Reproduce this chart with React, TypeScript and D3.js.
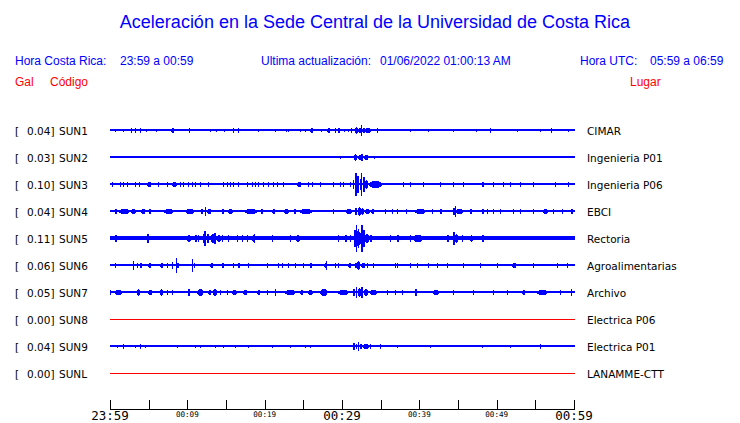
import React from "react";
import * as d3 from "d3";

const W = 740;
const H = 423;

const title = "Aceleración en la Sede Central de la Universidad de Costa Rica";
const crLabel = "Hora Costa Rica:";
const crRange = "23:59 a 00:59";
const updLabel = "Ultima actualización:";
const updValue = "01/06/2022 01:00:13 AM";
const utcLabel = "Hora UTC:";
const utcRange = "05:59 a 06:59";

const stations = ["SUN1", "SUN2", "SUN3", "SUN4", "SUN5", "SUN6", "SUN7", "SUN8", "SUN9", "SUNL"];
const peaks = [0.04, 0.03, 0.1, 0.04, 0.11, 0.06, 0.05, 0.0, 0.04, 0.0];
const places = [
  "CIMAR",
  "Ingenieria P01",
  "Ingenieria P06",
  "EBCI",
  "Rectoria",
  "Agroalimentarias",
  "Archivo",
  "Electrica P06",
  "Electrica P01",
  "LANAMME-CTT",
];
// baseline noise half-amplitude per station
const noise = [0.9, 0.9, 0.9, 0.9, 2, 0.9, 0.9, 0.5, 0.9, 0.5];

// minutes after 23:59 for ticks
const tickMinutes = [0, 5, 10, 15, 20, 25, 30, 35, 40, 45, 50, 55, 60];
const bigLabels: [number, string][] = [
  [0, "23:59"],
  [30, "00:29"],
  [60, "00:59"],
];
const smallLabels: [number, string][] = [
  [10, "00:09"],
  [20, "00:19"],
  [40, "00:39"],
  [50, "00:49"],
];

// events: [minute, half amplitude, duration in minutes]
type Ev = [number, number, number];
const sun1: Ev[] = [
  [0.6, 1, 0.1], [1.7, 1, 0.1], [2.7, 1.5, 0.2], [3.2, 1.2, 0.1], [3.9, 1.2, 0.1], [4.6, 1, 0.1],
  [5.9, 1, 0.1], [7.9, 1.5, 0.4], [10.2, 1.2, 0.1], [12.9, 1, 0.1], [13.7, 1, 0.1], [14.7, 1, 0.1],
  [15.9, 1.2, 0.1], [16.5, 1.2, 0.1], [19.1, 0.8, 0.1], [21.3, 1, 0.1], [22.8, 1, 0.1], [23.0, 1, 0.1],
  [24.6, 1, 0.1], [25.2, 1, 0.1], [25.9, 1.5, 0.4], [27.3, 1, 0.1], [28.1, 1.5, 0.4], [29.1, 1.2, 0.1],
  [29.5, 1.2, 0.2], [30.2, 1, 0.1], [30.8, 1, 0.1], [31.1, 1.2, 0.1],
  [31.7, 2.5, 0.4], [32.1, 1.8, 0.3], [32.4, 4.5, 0.15], [32.6, 2, 0.4], [33.0, 1.3, 0.8], [34.5, 1.2, 0.2],
  [38.8, 1, 0.1], [41.1, 1, 0.1], [44.4, 1, 0.1], [47.3, 1, 0.1], [49.2, 1.2, 0.1], [52.6, 1, 0.1],
  [55.6, 1, 0.1], [57.0, 1.5, 0.1], [59.2, 1, 0.1],
];
const sun2: Ev[] = [
  [29.7, 1, 0.1], [31.6, 2.5, 0.4], [32.1, 1.5, 0.3], [32.4, 2.5, 0.3], [32.8, 1.3, 0.6], [34.1, 1, 0.1],
];
const sun3: Ev[] = [
  [0.3, 1.5, 0.1], [1.3, 1.5, 0.1], [1.7, 1.5, 0.1], [2.2, 1.5, 0.1], [3.2, 1.5, 0.1], [3.8, 1.5, 0.1],
  [4.8, 1.5, 0.5], [6.2, 1.5, 0.1], [7.4, 1.5, 0.1], [8.0, 1.5, 0.6], [9.1, 1.5, 0.1], [9.4, 1.5, 0.1],
  [10.1, 1.5, 0.1], [10.6, 1.5, 0.1], [11.0, 1.5, 0.1], [11.6, 1.5, 0.1], [12.7, 1.5, 0.1], [14.6, 1.5, 0.1],
  [15.1, 1.5, 0.1], [15.5, 1.5, 0.1], [15.9, 1.5, 0.1], [16.6, 1.5, 0.1], [17.7, 1.5, 0.1], [18.4, 1.5, 0.1],
  [18.7, 1.5, 0.1], [19.1, 1.5, 0.1], [19.8, 1.5, 0.1], [20.4, 1.5, 0.1], [21.1, 1.5, 0.1], [21.6, 1.5, 0.1],
  [22.4, 1.5, 0.1], [24.2, 1.5, 0.5], [25.6, 1.5, 0.1], [26.1, 1.5, 0.1], [27.2, 1.5, 0.1], [28.8, 1.5, 0.1],
  [29.7, 1.5, 0.1], [30.1, 1.5, 0.1], [31.0, 2, 0.1],
  [31.4, 4, 0.2], [31.7, 11, 0.2], [31.9, 8, 0.3], [32.3, 5, 0.2], [32.5, 11, 0.15], [32.7, 7, 0.3],
  [33.0, 4, 0.4], [33.5, 2.2, 1.7],
  [37.9, 1.5, 0.1], [38.8, 1.5, 0.1], [40.5, 1.5, 0.1], [42.7, 1.5, 0.1], [44.4, 1.5, 0.1], [45.6, 1.5, 0.1],
  [48.1, 1.8, 0.2], [49.5, 1.5, 0.1], [50.8, 1.5, 0.1], [51.7, 1.5, 0.1], [53.0, 1.5, 0.1], [54.7, 1.5, 0.1],
  [57.5, 1.5, 0.1], [59.2, 1.5, 0.1],
];
const sun4: Ev[] = [
  [0.6, 1.5, 0.3], [1.2, 2, 1.2], [2.7, 1.5, 0.6], [4.0, 1.5, 0.5], [5.0, 1.5, 0.3], [7.0, 1.5, 1.2],
  [9.8, 1.5, 1.0], [11.8, 1.2, 0.2], [12.3, 3.5, 0.15], [12.6, 1.5, 0.4], [14.5, 1.2, 0.2], [15.3, 1.5, 0.6],
  [17.5, 1.5, 1.5], [19.5, 1.3, 0.3], [21.0, 1.3, 0.4], [22.5, 1.5, 0.6], [23.8, 1.3, 0.3], [24.6, 1.5, 1.5],
  [28.8, 1.3, 0.1], [30.5, 1.5, 0.8], [31.7, 3, 0.3], [32.1, 4, 0.3], [32.5, 2.5, 0.4], [33.0, 2, 0.6],
  [33.7, 1.5, 0.5], [35.6, 1.3, 0.1], [36.5, 1.3, 0.1], [37.1, 1.3, 0.1], [38.3, 1.3, 0.1], [39.4, 1.8, 1.3],
  [41.6, 1.3, 0.1], [42.7, 1.5, 0.2], [44.4, 2.5, 0.2], [44.6, 5, 0.15], [44.8, 2, 0.3], [45.0, 1.5, 0.7],
  [46.6, 1.3, 0.2], [48.1, 1.5, 0.3], [48.7, 1.3, 0.1], [49.5, 1.3, 0.2], [50.4, 1.3, 0.1], [52.1, 1.3, 0.1],
  [53.0, 1.3, 0.1], [54.7, 1.3, 0.1], [56.0, 1.3, 0.6], [57.3, 1.3, 0.1], [58.4, 1.3, 0.1], [59.6, 1.5, 0.3],
];
const sun5: Ev[] = [
  [0.6, 2.5, 0.3], [4.8, 4, 0.3], [9.9, 2.5, 0.6], [11.0, 2.5, 0.2], [11.4, 2.5, 0.1], [12.0, 4, 0.2],
  [12.2, 7, 0.15], [12.5, 4, 0.3], [13.0, 3.5, 0.6], [13.5, 5, 0.2], [13.8, 3, 0.5], [14.5, 2.5, 0.1],
  [15.3, 2.5, 0.1], [16.4, 2.5, 0.2], [17.1, 2.5, 0.1], [17.7, 2.5, 0.1], [18.4, 3, 0.3], [18.6, 4, 0.15],
  [20.9, 2.5, 0.2], [23.3, 2.5, 0.1], [23.9, 2.8, 0.7], [29.5, 2.5, 0.1], [30.4, 2.5, 0.2], [31.0, 2.5, 0.2],
  [31.6, 8, 0.2], [31.8, 12.5, 0.2], [32.0, 9, 0.3], [32.3, 5, 0.2], [32.5, 12.5, 0.2], [32.7, 8, 0.3],
  [33.0, 4, 0.5], [33.6, 2.8, 0.3], [36.2, 2.5, 0.2], [37.1, 2.5, 0.3], [38.8, 2.5, 0.1], [39.2, 3, 1.3],
  [43.6, 3, 0.3], [44.4, 6, 0.2], [44.6, 4, 0.4], [45.5, 2.5, 0.2], [46.6, 2.5, 0.4], [48.1, 3, 0.3],
];
const sun6: Ev[] = [
  [0.6, 2, 0.2], [3.0, 4, 0.1], [3.5, 1.5, 0.1], [3.9, 1.5, 0.2], [4.9, 2, 0.4], [6.5, 1.5, 0.4],
  [7.4, 1.2, 0.1], [8.0, 3, 0.1], [8.5, 7, 0.1], [8.6, 2, 0.3], [10.6, 6, 0.1], [10.8, 2, 0.2],
  [12.9, 1.5, 0.4], [14.5, 1.5, 0.2], [15.9, 1.3, 0.1], [16.6, 1.5, 0.2], [17.8, 1.5, 0.2], [20.3, 1.3, 0.1],
  [21.7, 1.3, 0.1], [22.2, 1.3, 0.1], [23.0, 1.3, 0.1], [23.9, 1.3, 0.1], [25.0, 1.3, 0.1], [25.9, 1.5, 0.2],
  [27.7, 2, 0.3], [27.9, 4, 0.1], [29.1, 1.2, 0.1], [29.5, 1.2, 0.1], [30.8, 1.5, 0.3], [31.7, 2, 0.2],
  [32.0, 3.5, 0.3], [32.4, 2, 0.6], [33.2, 1.5, 0.2], [34.0, 1.3, 0.1], [36.9, 1.3, 0.1], [37.1, 1.3, 0.1],
  [38.8, 1.3, 0.1], [39.7, 1.3, 0.1], [41.1, 1.3, 0.1], [42.3, 1.3, 0.1], [43.6, 1.3, 0.1], [45.6, 1.3, 0.1],
  [47.8, 1.3, 0.1], [50.0, 1.3, 0.1], [52.0, 1.5, 0.5], [54.7, 1.3, 0.1], [57.8, 1.3, 0.1], [59.1, 1.5, 0.1],
];
const sun7: Ev[] = [
  [0.0, 1.5, 0.1], [0.6, 2, 1.0], [3.5, 2.5, 0.4], [4.9, 2, 0.5], [6.5, 2.5, 0.3], [7.4, 1.5, 0.1],
  [8.0, 1.5, 0.1], [10.1, 2.5, 0.2], [11.2, 2.5, 0.8], [12.7, 2, 0.4], [13.3, 3, 0.5], [14.2, 1.5, 0.1],
  [15.1, 1.5, 0.1], [15.8, 2, 0.6], [17.2, 2, 0.5], [19.0, 2, 0.4], [20.3, 1.5, 0.1], [21.3, 3, 0.2],
  [22.6, 2, 1.3], [24.6, 2, 0.3], [25.6, 2, 0.6], [27.2, 2.5, 0.9], [29.5, 2, 1.3], [30.4, 1.3, 0.1],
  [31.4, 3, 0.3], [31.8, 5, 0.2], [32.1, 3.5, 0.4], [32.5, 5, 0.2], [32.8, 2.5, 0.5], [33.6, 2, 0.9],
  [35.8, 1.3, 0.1], [36.9, 1.3, 0.1], [37.8, 1.3, 0.1], [39.4, 3, 0.3], [41.8, 2, 0.8], [44.4, 1.5, 0.1],
  [46.9, 1.5, 0.1], [49.5, 1.5, 0.1], [51.3, 1.3, 0.1], [53.3, 1.5, 0.3], [55.2, 2, 1.3], [58.2, 1.3, 0.1],
  [59.6, 3, 0.2],
];
const sun8: Ev[] = [];
const sun9: Ev[] = [
  [0.9, 1, 0.1], [1.7, 1.3, 0.1], [3.2, 1, 0.1], [3.9, 1.2, 0.1], [4.5, 1, 0.1], [8.7, 1, 0.1],
  [11.0, 1, 0.1], [11.6, 1, 0.1], [13.6, 1, 0.1], [14.6, 1, 0.1], [16.2, 1, 0.1], [17.8, 1, 0.1],
  [20.9, 1, 0.1], [23.3, 1, 0.1], [25.2, 1, 0.1], [25.9, 1, 0.1], [31.4, 2.5, 0.3], [31.8, 2, 0.2],
  [32.1, 4, 0.15], [32.3, 2, 0.3], [32.7, 1.3, 0.8], [33.6, 1.5, 0.2], [34.9, 1.3, 0.1], [37.1, 1, 0.1],
  [41.4, 1, 0.1], [48.1, 1, 0.1], [51.7, 1, 0.1], [55.6, 1.3, 0.1],
];
const sunL: Ev[] = [];
const events: Ev[][] = [sun1, sun2, sun3, sun4, sun5, sun6, sun7, sun8, sun9, sunL];

const BLUE = "#0000ff";
const RED = "#ff0000";

export default function App() {
  const x = d3.scaleLinear().domain([0, 60]).range([110, 574]);
  const row = d3.scaleBand<string>().domain(stations).range([116.5, 386.5]).padding(0);
  const amp = d3.scaleLinear().domain([0, 13.5]).range([0, 13.5]);
  const bw = row.bandwidth();
  const sans = "'Liberation Sans', Arial, sans-serif";
  const dj = "'DejaVu Sans', sans-serif";
  const mono = "'DejaVu Sans Mono', monospace";

  const shape = (x0: number, x1: number, cy: number, a: number) => {
    const w = x1 - x0;
    if (w < 3) return `M${x0},${cy - a}H${x1}V${cy + a + 1}H${x0}Z`;
    const t = Math.max(1, Math.round(w * 0.3));
    const lo = Math.max(1, Math.round(a * 0.45));
    return (
      `M${x0},${cy - lo}L${x0 + t},${cy - a}H${x1 - t}L${x1},${cy - lo}` +
      `V${cy + lo + 1}L${x1 - t},${cy + a + 1}H${x0 + t}L${x0},${cy + lo + 1}Z`
    );
  };

  return (
    <svg width={W} height={H} style={{ position: "absolute", left: 0, top: 0, background: "#fff" }}>
      <rect x={0} y={0} width={W} height={H} fill="#fff" />
      <text x={375} y={28} textAnchor="middle" fontFamily={sans} fontSize={18} fill={BLUE}>
        {title}
      </text>
      <g fontFamily={sans} fontSize={12} fill={BLUE}>
        <text x={15} y={65}>{crLabel}</text>
        <text x={120} y={65}>{crRange}</text>
        <text x={261} y={65}>{updLabel}</text>
        <text x={380} y={65}>{updValue}</text>
        <text x={580} y={65}>{utcLabel}</text>
        <text x={650} y={65}>{utcRange}</text>
      </g>
      <g fontFamily={sans} fontSize={12} fill={RED}>
        <text x={15} y={86}>Gal</text>
        <text x={50} y={86}>Código</text>
        <text x={630} y={86}>Lugar</text>
      </g>
      {stations.map((s, i) => {
        const cy = Math.round((row(s) as number) + bw / 2);
        const dead = peaks[i] === 0;
        const color = dead ? RED : BLUE;
        const h = Math.max(Math.round(2 * amp(noise[i])), 1);
        return (
          <g key={s}>
            <g fontFamily={dj} fontSize={10.5} fill="#000">
              <text x={15} y={cy + 4.5}>[</text>
              <text x={27} y={cy + 4.5}>{peaks[i].toFixed(2) + "]"}</text>
              <text x={59} y={cy + 4.5}>{s}</text>
              <text x={587} y={cy + 4.5}>{places[i]}</text>
            </g>
            <g shapeRendering="crispEdges" fill={color}>
              <rect x={x(0)} y={cy - Math.floor(h / 2)} width={x(60) - x(0) + 1} height={h} />
              {events[i].map((e, j) => {
                const x0 = Math.round(x(e[0]));
                const x1 = Math.max(Math.round(x(e[0] + e[2])), x0 + 1);
                const a = Math.round(amp(e[1]) + 0.3);
                return <path key={j} d={shape(x0, x1, cy, a)} />;
              })}
            </g>
          </g>
        );
      })}
      <g stroke="#000" strokeWidth={1} shapeRendering="crispEdges">
        <line x1={x(0)} x2={x(60) + 1} y1={409.5} y2={409.5} />
        {tickMinutes.map((m) => (
          <line key={m} x1={Math.round(x(m)) + 0.5} x2={Math.round(x(m)) + 0.5} y1={400} y2={409.5} />
        ))}
      </g>
      <g fontFamily={mono} fill="#000" textAnchor="middle">
        {bigLabels.map(([m, l]) => (
          <text key={l} x={x(m)} y={420} fontSize={12.5}>{l}</text>
        ))}
        {smallLabels.map(([m, l]) => (
          <text key={l} x={x(m)} y={417} fontSize={7.6}>{l}</text>
        ))}
      </g>
    </svg>
  );
}
